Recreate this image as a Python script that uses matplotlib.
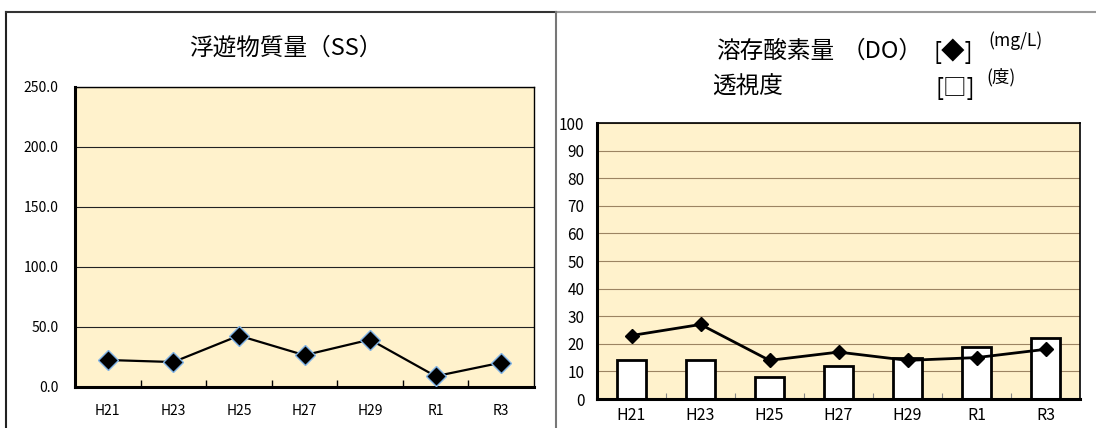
import numpy as np
import matplotlib
matplotlib.use('Agg')
import matplotlib.pyplot as plt
from matplotlib.lines import Line2D

plt.rcParams['font.family'] = ['Noto Sans CJK JP', 'DejaVu Sans']

# 年度
years = ['H21', 'H23', 'H25', 'H27', 'H29', 'R1', 'R3']
# 浮遊物質量 SS
ss = [22.5, 20.8, 42.8, 26.5, 39.5, 9.0, 20.3]
# 溶存酸素量 DO (mg/L)
do = [23, 27, 14, 17, 14, 15, 18]
# 透視度 (度)
clarity = [14, 14, 8, 12, 15, 19, 22]

W, H = 1096, 428
bg = '#FFF2CC'
fig = plt.figure(figsize=(W / 100, H / 100), dpi=100)

def box(x0, y0, x1, y1):
    # ピクセル座標 -> figure座標
    return [x0 / W, 1 - y1 / H, (x1 - x0) / W, (y1 - y0) / H]

def label(px, py, s, size):
    fig.text(px / W, 1 - py / H, s, fontsize=size, ha='left', va='center')

# 枠線
fig.add_artist(Line2D([6 / W, 6 / W], [0, 1 - 12 / H], color='#222222', lw=1.5))
fig.add_artist(Line2D([6 / W, 556 / W], [1 - 12 / H, 1 - 12 / H], color='#333333', lw=1.5))
fig.add_artist(Line2D([556 / W, 1], [1 - 12 / H, 1 - 12 / H], color='#999999', lw=1.5))
fig.add_artist(Line2D([556 / W, 556 / W], [0, 1 - 12 / H], color='#777777', lw=1.5))

x = np.arange(len(years))

# ---- 左: SS ----
ax1 = fig.add_axes(box(75, 87, 534, 387))
ax1.set_facecolor(bg)
ax1.plot(x, ss, color='black', lw=1.6, marker='D', ms=10,
         mfc='black', mec='#7FB2E5', mew=1.0, zorder=3)
ax1.set_xlim(-0.5, len(years) - 0.5)
ax1.set_ylim(0, 250)
ax1.set_yticks(np.arange(0, 251, 50))
ax1.set_yticklabels(['%.1f' % v for v in np.arange(0, 251, 50)], fontsize=10)
ax1.yaxis.grid(True, color='#222222', lw=0.8)
ax1.set_axisbelow(True)
ax1.set_xticks(x)
ax1.set_xticklabels(years, fontsize=10)
ax1.set_xticks(x[:-1] + 0.5, minor=True)
ax1.tick_params(axis='x', which='major', length=0, pad=12)
ax1.tick_params(axis='x', which='minor', direction='in', length=5, width=1)
ax1.tick_params(axis='y', length=0, pad=12)
for s in ['left', 'bottom']:
    ax1.spines[s].set_linewidth(2.2)
for s in ['top', 'right']:
    ax1.spines[s].set_linewidth(1.0)
fig.text(286 / W, 1 - 48 / H, '浮遊物質量（SS）', fontsize=17, ha='center', va='center')

# ---- 右: DO / 透視度 ----
ax2 = fig.add_axes(box(597, 123, 1080, 399))
ax2.set_facecolor(bg)
ax2.bar(x, clarity, width=0.41, color='white', edgecolor='black', lw=2, zorder=2)
ax2.plot(x, do, color='black', lw=2, marker='D', ms=7, mfc='black', mec='black', zorder=3)
ax2.set_xlim(-0.5, len(years) - 0.5)
ax2.set_ylim(0, 100)
ax2.set_yticks(np.arange(0, 101, 10))
ax2.tick_params(axis='y', length=0, pad=9, labelsize=11)
ax2.yaxis.grid(True, color='#9C8462', lw=0.8)
ax2.set_axisbelow(True)
ax2.set_xticks(x)
ax2.set_xticklabels(years, fontsize=11.5)
ax2.set_xticks(x[:-1] + 0.5, minor=True)
ax2.tick_params(axis='x', which='major', length=0, pad=6)
ax2.tick_params(axis='x', which='minor', direction='in', length=4, width=0.8, color='#888888')
for s in ['left', 'bottom']:
    ax2.spines[s].set_linewidth(2.2)
for s in ['top', 'right']:
    ax2.spines[s].set_linewidth(1.2)

label(716, 51, '溶存酸素量', 17)
label(842, 51, '（DO）', 17)
label(934, 51, '[◆]', 17)
label(988, 41, '(mg/L)', 12.5)
label(712, 87, '透視度', 17)
label(936, 88, '[□]', 17)
label(986, 77, '(度)', 12.5)

fig.savefig('out.png', dpi=100)
